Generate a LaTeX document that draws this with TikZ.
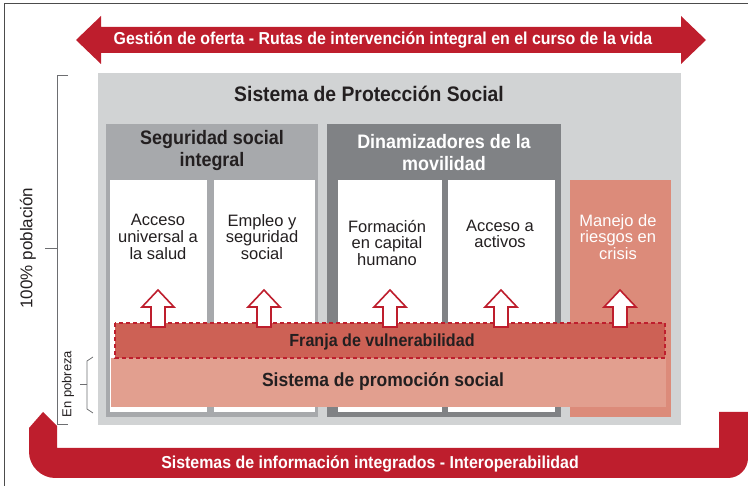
\documentclass[tikz,border=0pt]{standalone}
\usepackage{fontspec}
\usepackage{xcolor}
\usepackage{tikz}
\setmainfont{Liberation Sans}
\newfontfamily\headfont{Liberation Sans}[FakeStretch=0.92]

\definecolor{bandred}{HTML}{BE1E2D}
\definecolor{panelgray}{HTML}{D1D3D4}
\definecolor{midgray}{HTML}{A7A9AC}
\definecolor{darkgray}{HTML}{808285}
\definecolor{crisis}{HTML}{DC8B7A}
\definecolor{franjafill}{HTML}{CD6155}
\definecolor{promofill}{HTML}{E29F8F}
\definecolor{inktext}{HTML}{231F20}
\definecolor{linegray}{HTML}{6D6E71}

\begin{document}
\begin{tikzpicture}[x=1pt, y=-1pt,
  bandlabel/.style={text=white, font=\headfont\bfseries\fontsize{17.3}{19}\selectfont},
  grouptitle/.style={font=\headfont\bfseries\fontsize{19.5}{22}\selectfont, align=center},
  boxtext/.style={font=\fontsize{16.5}{16.8}\selectfont, align=center, text=inktext},
  bracket/.style={draw=linegray, line width=0.8pt},
  uparrow/.style={draw=bandred, line width=1.6pt, fill=white, line join=miter}]
\useasboundingbox (0,0) rectangle (748,486);

% Frame
\draw[line width=1pt, black!70] (4,486) -- (4,4) -- (748,4);

% Top double arrow
\fill[bandred] (76,40) -- (101,16) -- (101,27) -- (681,27) -- (681,16) -- (706,40)
  -- (681,64) -- (681,53) -- (101,53) -- (101,64) -- cycle;
\node[bandlabel] (oferta) at (383,40) {Gestión de oferta - Rutas de intervención integral en el curso de la vida};

% Bottom U-shaped arrow
\fill[bandred] (43,412) -- (57,426) -- (57,448) -- (719,448) -- (719,412) -- (748,412)
  -- (748,458) .. controls (748,469) and (739,478) .. (728,478)
  -- (55,478) .. controls (41,478) and (29,466) .. (29,452) -- (29,428) -- cycle;
\node[bandlabel] (info) at (370,464) {Sistemas de información integrados - Interoperabilidad};

% Population brackets
\draw[bracket] (68,75) -- (57,75) -- (57,424) -- (68,424);
\draw[bracket] (57,248) -- (45,248);
\node[rotate=90, text=inktext, font=\fontsize{17}{19}\selectfont] (poblacion) at (28,248) {100\% población};
\draw[bracket] (93,357) -- (87,361) -- (87,409) -- (93,413);
\draw[bracket] (87,384) -- (80,384);
\node[rotate=90, text=inktext, font=\fontsize{13}{15}\selectfont] (pobreza) at (68,384) {En pobreza};

% Social protection system
\fill[panelgray] (98,73) rectangle (681,425);
\node[text=inktext, font=\headfont\bfseries\fontsize{21}{24}\selectfont] (sps) at (369,94) {Sistema de Protección Social};

% Groups
\fill[midgray] (106,124) rectangle (318,417);
\fill[darkgray] (327,124) rectangle (561,417);
\node[grouptitle, text=inktext] (ssi) at (212,151) {Seguridad social\\integral};
\node[grouptitle, text=white] (din) at (444,153) {Dinamizadores de la\\movilidad};

% Boxes
\fill[white] (110,180) rectangle (207,412);
\fill[white] (214,180) rectangle (315,412);
\fill[white] (338,180) rectangle (442,412);
\fill[white] (448,180) rectangle (555,412);
\fill[crisis] (570,180) rectangle (671,417);
\node[boxtext] (salud) at (158,237) {Acceso\\universal a\\la salud};
\node[boxtext] (empleo) at (262,237) {Empleo y\\seguridad\\social};
\node[boxtext] (capital) at (387,243) {Formación\\en capital\\humano};
\node[boxtext] (activos) at (500,234) {Acceso a\\activos};
\node[boxtext, text=white] (riesgos) at (618,237) {Manejo de\\riesgos en\\crisis};

% Promotion system and vulnerability strip
\fill[promofill] (111,358) rectangle (666,407);
\node[text=inktext, font=\headfont\bfseries\fontsize{19}{22}\selectfont] (promo) at (383,382) {Sistema de promoción social};
\draw[fill=franjafill, draw=bandred, line width=1.2pt, dash pattern=on 4pt off 3pt] (115,323) rectangle (665,358);
\node[text=inktext, font=\headfont\bfseries\fontsize{17.5}{20}\selectfont] (franja) at (382,342) {Franja de vulnerabilidad};

% Upward arrows
\foreach \ax in {158,264,390,501,620}
  \draw[uparrow] ({\ax-7},327) -- ({\ax-7},307) -- ({\ax-16},307) -- (\ax,290)
    -- ({\ax+16},307) -- ({\ax+7},307) -- ({\ax+7},327) -- cycle;

\end{tikzpicture}
\end{document}
